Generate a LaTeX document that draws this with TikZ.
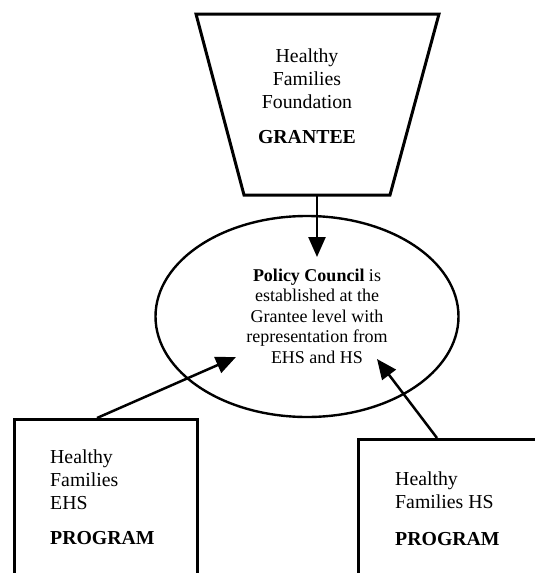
\documentclass[tikz,border=0pt]{standalone}
\usepackage{fontspec}
\setmainfont{Liberation Serif}
\usetikzlibrary{arrows.meta, shapes.geometric}

\begin{document}
\begin{tikzpicture}[
    x=1pt, y=-1pt,
    box/.style={rectangle, draw, line width=3pt, anchor=north west, inner sep=0pt},
    council/.style={ellipse, draw, line width=2.4pt, minimum width=303, minimum height=201, inner sep=0pt},
    label/.style={inner sep=0pt, font=\fontsize{19.8}{23}\selectfont},
    arrow/.style={-{Triangle[length=20pt, width=17pt]}, line width=2.5pt}
]
\useasboundingbox (0,0) rectangle (535,573);
\clip (0,0) rectangle (535,573);

% Define nodes
\draw[line width=3pt, line join=miter] (196,14) -- (439,14) -- (390,195) -- (244,195) -- cycle;
\coordinate (G) at (317,195);
\node[label, anchor=north, align=center] (grantee) at (307,48.5)
    {Healthy\\Families\\Foundation\\[12pt]\textbf{GRANTEE}};

\node[council] (PC) at (307,316.5) {};
\node[label, anchor=north, align=center, font=\fontsize{18}{20.5}\selectfont] (pctext) at (317,268.5)
    {\textbf{Policy Council} is\\established at the\\Grantee level with\\representation from\\EHS and HS};
\coordinate (PCtop) at (317,257);
\coordinate (PCleft) at (236,357);
\coordinate (PCright) at (377,359);

\node[box, minimum width=183, minimum height=200] (EHS) at (13,418) {};
\node[label, anchor=north west, align=left] (ehstext) at (50,449.5)
    {Healthy\\Families\\EHS\\[12pt]\textbf{PROGRAM}};

\node[box, minimum width=200, minimum height=200] (HS) at (357,438) {};
\node[label, anchor=north west, align=left] (hstext) at (395,471.5)
    {Healthy\\Families HS\\[14pt]\textbf{PROGRAM}};

% Define arrows
% grantee -> council
\draw[arrow] (G) -- (PCtop);

% EHS -> council
\draw[arrow] ([xshift=84pt]EHS.north west) -- (PCleft);

% HS -> council
\draw[arrow] ([xshift=80pt]HS.north west) -- (PCright);

\end{tikzpicture}
\end{document}
